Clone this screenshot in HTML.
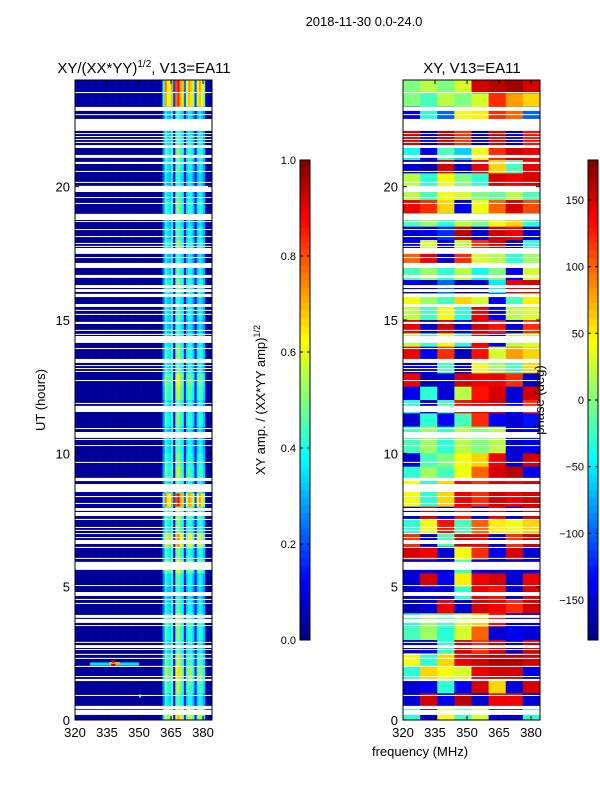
<!DOCTYPE html>
<html><head><meta charset="utf-8">
<style>
body{margin:0;background:#fff;font-family:"Liberation Sans","DejaVu Sans",sans-serif;}
svg text{font-family:"Liberation Sans","DejaVu Sans",sans-serif;}
</style></head>
<body>
<svg id="fig" width="600" height="800" viewBox="0 0 600 800" xmlns="http://www.w3.org/2000/svg">
<rect width="600" height="800" fill="#fff"/>
<text x="364" y="26" font-size="13" text-anchor="middle">2018-11-30 0.0-24.0</text>
<text x="144" y="73" font-size="15" text-anchor="middle">XY/(XX*YY)<tspan font-size="10" dy="-6">1/2</tspan><tspan dy="6">, V13=EA11</tspan></text>
<text x="472" y="73" font-size="15" text-anchor="middle">XY, V13=EA11</text>
<text x="45" y="400" font-size="13" text-anchor="middle" transform="rotate(-90 45 400)">UT (hours)</text>
<text x="420" y="756" font-size="13" text-anchor="middle">frequency (MHz)</text>
<text x="265" y="400" font-size="13" text-anchor="middle" transform="rotate(-90 265 400)">XY amp. / (XX*YY amp)<tspan font-size="9" dy="-5">1/2</tspan></text>
<g id="left"></g>
<g id="right"></g>
<g id="cb"></g>
<text x="544" y="400" font-size="13" text-anchor="middle" transform="rotate(-90 544 400)">phase (deg)</text>
</svg>
<script>
// ---- data ----
const hourTicks=[0,5,10,15,20];
const freqTicks=[320,335,350,365,380];
const ampTicks=["0.0","0.2","0.4","0.6","0.8","1.0"];
const phaseTicks=[-150,-100,-50,0,50,100,150];
// amplitude per 1 MHz channel, 320..383
const ampChannel=[0.02,0.02,0.02,0.02,0.02,0.02,0.02,0.02,0.02,0.02,0.02,0.02,0.02,0.02,0.02,0.02,0.02,0.02,0.02,0.02,
0.02,0.02,0.02,0.02,0.02,0.02,0.02,0.02,0.02,0.02,0.02,0.02,0.02,0.02,0.02,0.02,0.02,0.02,0.02,0.02,
0.03,0.22,0.38,0.32,0.3,0.36,0.1,0.4,0.44,0.36,0.34,0.12,0.3,0.36,0.34,0.28,0.1,0.3,0.36,0.32,0.26,0.04,0.02,0.02];
// row scale per 0.5 h, from 24h (top) down to 0h
const ampRowScale=[2.0,1.9,1.0,1.0,1.1,1.2,1.1,1.0,1.1,1.2,1.0,1.1,1.2,1.0,1.1,1.2,1.0,1.1,1.0,1.1,1.2,1.1,1.4,1.3,
1.1,1.2,1.0,1.1,1.2,1.3,1.1,2.0,1.3,1.2,1.7,1.2,1.4,1.1,1.0,1.1,1.3,1.2,1.1,1.3,1.5,1.3,1.1,1.6];
// isolated RFI features [hour, freqStart, freqEnd, value]
const ampFeatures=[[2.1,327,350,0.35],[2.12,336,341,0.7],[2.05,337,339,0.95],[2.2,337.5,338.5,0.9],[0.9,350,351,0.4]];
// phase (deg) per 0.5 h row (top=24h) x 8 freq bins of 8 MHz
const phaseRows=[
[0,20,0,30,150,160,170,150],[0,-20,20,0,30,120,80,60],[-140,-30,-100,40,50,120,100,-100],[150,-150,160,120,-160,150,-150,130],
[150,-150,160,120,-160,150,-150,130],[-40,-140,-20,-60,40,120,150,140],[-150,-160,150,-150,140,60,-20,140],[20,-30,40,0,-30,150,140,150],
[20,-20,40,30,0,-10,20,-20],[140,120,60,-140,40,100,150,110],[-20,10,-30,20,0,40,60,-30],[-150,-140,-120,160,-150,150,140,-150],
[-140,30,-150,20,120,150,-160,-30],[100,140,-150,120,30,20,-30,10],[-20,10,-30,20,-40,0,-140,30],[-140,-150,-100,-160,-150,-50,140,150],
[40,10,-20,60,30,-140,-20,50],[20,-20,40,-30,140,-140,20,30],[140,-150,150,-140,150,130,-150,120],[20,-20,40,-30,140,-140,20,30],
[140,-140,120,-160,130,30,80,60],[-150,-140,-20,-150,40,10,-20,60],[140,-160,-150,150,140,140,120,-150],[-140,-30,-150,20,130,150,-150,150],
[-30,-150,-20,130,140,150,-140,120],[-150,-30,-140,-20,120,-140,-150,-130],[-20,10,-30,20,0,20,-150,-140],[-20,10,-30,20,0,20,-150,-140],
[-150,-20,0,40,60,140,-150,150],[-30,10,-20,40,100,150,160,-140],[40,-30,60,140,120,150,140,150],[40,-30,60,140,120,150,140,150],
[-150,150,-140,130,-150,140,-150,150],[-30,40,130,-20,100,50,40,60],[120,-150,-20,150,140,-150,120,150],[150,140,-150,40,120,-140,150,-150],
[-150,-140,-150,-20,-140,-150,-150,-140],[-150,150,-140,50,140,150,-150,140],[-150,-140,-150,-30,140,130,-150,150],[-160,-150,140,-150,150,140,120,150],
[-30,10,-20,30,60,130,-150,-140],[-20,10,-30,30,100,-150,-140,-150],[-150,-140,-30,150,120,150,-150,150],[40,-30,60,140,150,160,160,150],
[-30,60,40,30,140,150,150,-140],[-150,-140,-30,-140,150,60,-150,150],[-150,150,-140,160,-150,140,140,-150],[-30,-150,40,-20,30,-140,-150,-30]];
// flagged (blank) time ranges [hourHigh, hourLow]
const gaps=[[23.55,23.51],[22.99,22.84],[22.72,22.69],[22.54,22.09],[22.01,21.98],[21.90,21.86],[21.79,21.75],[21.68,21.64],[21.56,21.45],
[21.19,21.08],[20.93,20.85],[20.59,20.55],[20.18,20.14],[20.03,19.80],[19.61,19.58],[19.39,19.35],[18.98,18.75],[18.71,18.68],[18.41,18.38],
[18.15,18.11],[17.89,17.85],[17.78,17.74],[17.70,17.48],[17.36,17.33],[17.14,16.95],[16.69,16.58],[16.31,16.20],[16.16,16.05],[15.98,15.86],
[15.60,15.49],[15.38,15.34],[15.23,15.19],[14.93,14.85],[14.63,14.59],[14.48,14.44],[14.40,14.14],[13.95,13.91],[13.54,13.39],[13.31,13.28],
[13.20,13.16],[13.09,13.05],[12.75,12.71],[11.89,11.85],[11.78,11.55],[10.95,10.91],[10.80,10.58],[10.54,10.50],[10.31,10.28],[9.68,9.64],
[9.08,8.96],[8.85,8.55],[8.40,8.36],[8.14,8.10],[7.95,7.84],[7.80,7.65],[7.54,7.50],[7.24,7.20],[7.13,7.09],[7.01,6.98],[6.86,6.83],
[6.75,6.60],[6.49,6.45],[6.08,6.04],[5.93,5.63],[5.06,5.03],[4.80,4.65],[4.54,4.50],[4.39,4.35],[3.94,3.83],[3.79,3.64],[3.56,3.53],
[2.93,2.89],[2.81,2.70],[2.66,2.63],[2.48,2.44],[2.33,2.29],[2.03,1.99],[1.65,1.61],[1.54,1.46],[0.94,0.90],[0.53,0.41],[0.38,0.19]];

// ---- helpers ----
const NS="http://www.w3.org/2000/svg";
function mk(tag,attrs,parent){const e=document.createElementNS(NS,tag);for(const k in attrs)e.setAttribute(k,attrs[k]);parent.appendChild(e);return e;}
function cl(v){return Math.max(0,Math.min(1,v));}
function jet(v){v=cl(v);const r=cl(1.5-Math.abs(4*v-3)),g=cl(1.5-Math.abs(4*v-2)),b=cl(1.5-Math.abs(4*v-1));
 return `rgb(${Math.round(r*255)},${Math.round(g*255)},${Math.round(b*255)})`;}
const F0=320,F1=384.2,H0=0,H1=24,Y0=80,Y1=720;
function yH(h){return Y1-(h-H0)/(H1-H0)*(Y1-Y0);}
function xF(x0,x1){return f=>x0+(f-F0)/(F1-F0)*(x1-x0);}

function axes(g,x0,x1,name){
  const x=xF(x0,x1);
  gaps.forEach(gp=>{const r=mk('rect',{x:x0,y:yH(gp[0]),width:x1-x0,height:Math.max(1,yH(gp[1])-yH(gp[0])),fill:'#fff'},g);
    
    });
  const fr=mk('rect',{x:x0,y:Y0,width:x1-x0,height:Y1-Y0,fill:'none',stroke:'#000','stroke-width':1},g);
  
  
  hourTicks.forEach(h=>{const y=yH(h);
    mk('line',{x1:x0,x2:x0+4,y1:y,y2:y,stroke:'#000'},g);mk('line',{x1:x1,x2:x1-4,y1:y,y2:y,stroke:'#000'},g);
    const t=mk('text',{x:x0-5,y:y+5,'font-size':13,'text-anchor':'end'},g);t.textContent=h;
    
    });
  freqTicks.forEach(f=>{const xx=x(f);
    mk('line',{x1:xx,x2:xx,y1:Y1,y2:Y1-4,stroke:'#000'},g);mk('line',{x1:xx,x2:xx,y1:Y0,y2:Y0+4,stroke:'#000'},g);
    const t=mk('text',{x:xx,y:Y1+17,'font-size':13,'text-anchor':'middle'},g);t.textContent=f;
    
    });
}

// ---- left amplitude ----
(function(){
 const g=document.getElementById('left'),x0=75,x1=212,x=xF(x0,x1);
 const nr=ampRowScale.length,dh=(H1-H0)/nr;
 ampRowScale.forEach((s,r)=>{
   const hTop=H1-r*dh,y=yH(hTop),h=yH(hTop-dh)-y;
   ampChannel.forEach((a,c)=>{const f=F0+c,xa=x(f),xb=x(f+1);
     const cell=mk('rect',{x:xa,y:y,width:xb-xa+0.3,height:h+0.3,fill:jet(a*s)},g);
     
     });
 });
 ampFeatures.forEach(ft=>{const xa=x(ft[1]),xb=x(ft[2]),y=yH(ft[0]);
   const r=mk('rect',{x:xa,y:y-1.5,width:xb-xa,height:3,fill:jet(ft[3])},g);
   
   });
 axes(g,x0,x1,'left');
})();

// ---- right phase ----
(function(){
 const g=document.getElementById('right'),x0=403,x1=540,x=xF(x0,x1);
 const nr=phaseRows.length,dh=(H1-H0)/nr,nb=phaseRows[0].length,df=(F1-F0)/nb;
 phaseRows.forEach((row,r)=>{
   const hTop=H1-r*dh,y=yH(hTop),h=yH(hTop-dh)-y;
   row.forEach((p,c)=>{const xa=x(F0+c*df),xb=x(F0+(c+1)*df);
     const cell=mk('rect',{x:xa,y:y,width:xb-xa+0.3,height:h+0.3,fill:jet((p+180)/360)},g);
     
     });
 });
 axes(g,x0,x1,'right');
})();

// ---- colorbars ----
(function(){
 const g=document.getElementById('cb');
 function bar(x0,lo,hi,ticks,name){
   const n=64,top=160,bot=640,hh=(bot-top)/n;
   for(let i=0;i<n;i++){const r=mk('rect',{x:x0,y:bot-(i+1)*hh,width:10,height:hh+0.4,fill:jet((i+0.5)/n)},g);
     
     }
   const fr=mk('rect',{x:x0,y:top,width:10,height:bot-top,fill:'none',stroke:'#000'},g);
   
   
   ticks.forEach(tv=>{const v=parseFloat(tv),y=bot-(v-lo)/(hi-lo)*(bot-top);
     mk('line',{x1:x0,x2:x0+3,y1:y,y2:y,stroke:'#000'},g);mk('line',{x1:x0+10,x2:x0+7,y1:y,y2:y,stroke:'#000'},g);
     const t=mk('text',{x:x0-4,y:y+4,'font-size':11,'text-anchor':'end'},g);
     t.textContent=String(tv).replace('-','\u2212');
     
     });
 }
 bar(300,0,1,ampTicks,'amp-colorbar');
 bar(588,-180,180,phaseTicks,'phase-colorbar');
})();
</script>
</body></html>
